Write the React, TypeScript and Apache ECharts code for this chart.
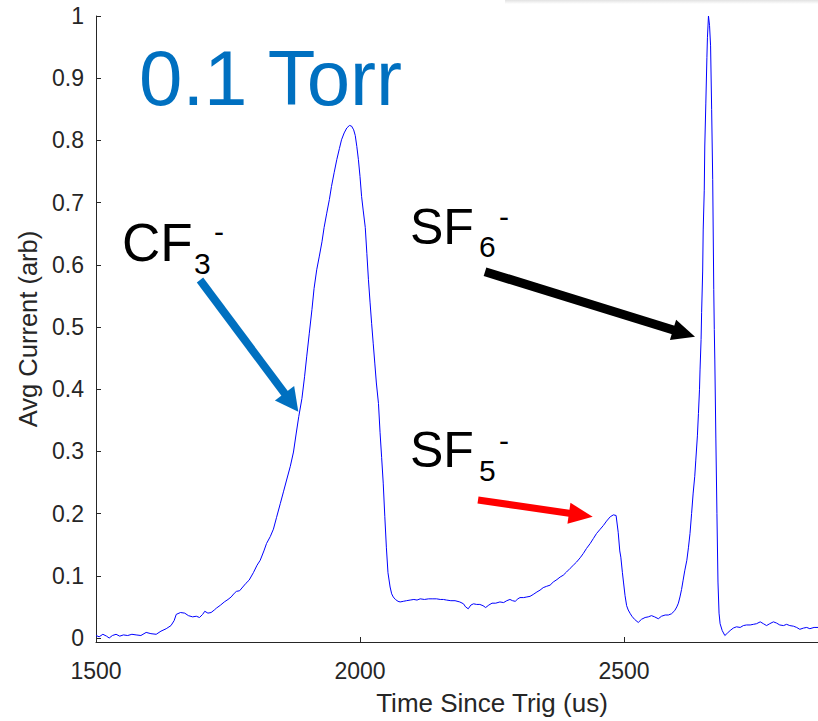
import React, { useEffect, useRef } from "react";
import * as echarts from "echarts";

const timeUs = [
  1500, 1506, 1513, 1520, 1525, 1531, 1538, 1545, 1552, 1560, 1568, 1576, 1585, 1595, 1604, 1614, 1623, 1633, 1642, 1648,
  1652, 1660, 1668, 1675, 1683, 1690, 1696, 1702, 1706, 1712, 1718, 1724, 1728, 1736, 1743, 1750, 1756, 1762, 1766, 1772,
  1778, 1784, 1790, 1798, 1805, 1811, 1818, 1823, 1830, 1836, 1842, 1849, 1855, 1861, 1868, 1874, 1879, 1884, 1890, 1895,
  1899, 1904, 1909, 1913, 1918, 1923, 1928, 1932, 1937, 1942, 1946, 1951, 1956, 1961, 1965, 1970, 1975, 1980, 1984, 1988,
  1991, 1994, 1997, 2000, 2003, 2006, 2010, 2013, 2016, 2019, 2022, 2025, 2028, 2031, 2035, 2038, 2041, 2044, 2047, 2050,
  2053, 2057, 2060, 2063, 2067, 2072, 2076, 2082, 2088, 2095, 2102, 2108, 2114, 2122, 2130, 2138, 2145, 2152, 2158, 2164,
  2172, 2180, 2189, 2196, 2200, 2205, 2210, 2215, 2221, 2227, 2233, 2238, 2244, 2250, 2257, 2265, 2272, 2278, 2284, 2289,
  2294, 2299, 2303, 2310, 2316, 2322, 2328, 2335, 2341, 2347, 2353, 2360, 2366, 2373, 2379, 2385, 2391, 2398, 2404, 2410,
  2417, 2423, 2429, 2436, 2442, 2448, 2455, 2461, 2467, 2474, 2480, 2485, 2489, 2492, 2494, 2497, 2499, 2502, 2505, 2508,
  2512, 2515, 2520, 2527, 2533, 2540, 2546, 2552, 2558, 2565, 2571, 2578, 2584, 2590, 2596, 2600, 2603, 2606, 2609, 2612,
  2615, 2619, 2622, 2625, 2628, 2631, 2634, 2636, 2639, 2641, 2643, 2644, 2646, 2647, 2649, 2650, 2652, 2653, 2655, 2657,
  2658, 2660, 2662, 2664, 2666, 2668, 2670, 2671, 2672, 2674, 2676, 2678, 2680, 2682, 2686, 2691, 2696, 2701, 2707, 2713,
  2720, 2726, 2732, 2739, 2745, 2751, 2758, 2764, 2770, 2776, 2783, 2789, 2795, 2802, 2808, 2814, 2821, 2827, 2833, 2840,
  2846, 2852, 2860, 2868,
];

const avgCurrent = [
  0.004, 0.002, 0.006, 0.003, 0.0, 0.004, 0.006, 0.003, 0.005, 0.004, 0.006, 0.005, 0.004, 0.009, 0.007, 0.006, 0.011, 0.015, 0.02, 0.028,
  0.038, 0.041, 0.04, 0.036, 0.034, 0.035, 0.033, 0.038, 0.043, 0.04, 0.041, 0.045, 0.048, 0.053, 0.058, 0.062, 0.066, 0.072, 0.075, 0.076,
  0.082, 0.088, 0.093, 0.105, 0.117, 0.125, 0.14, 0.152, 0.163, 0.175, 0.194, 0.216, 0.235, 0.254, 0.276, 0.299, 0.328, 0.356, 0.385, 0.42,
  0.452, 0.49, 0.528, 0.562, 0.592, 0.614, 0.637, 0.66, 0.683, 0.705, 0.726, 0.748, 0.769, 0.787, 0.801, 0.812, 0.82, 0.824, 0.823, 0.817,
  0.808, 0.79, 0.769, 0.742, 0.71, 0.688, 0.66, 0.618, 0.576, 0.54, 0.506, 0.474, 0.442, 0.41, 0.377, 0.33, 0.29, 0.249, 0.195, 0.145,
  0.105, 0.082, 0.071, 0.066, 0.062, 0.059, 0.058, 0.059, 0.06, 0.061, 0.062, 0.061, 0.063, 0.062, 0.063, 0.063, 0.063, 0.062, 0.062, 0.061,
  0.06, 0.06, 0.058, 0.055, 0.05, 0.047, 0.053, 0.055, 0.054, 0.054, 0.052, 0.049, 0.053, 0.056, 0.056, 0.058, 0.057, 0.06, 0.062, 0.06,
  0.059, 0.063, 0.065, 0.065, 0.066, 0.067, 0.07, 0.074, 0.077, 0.081, 0.083, 0.085, 0.09, 0.094, 0.098, 0.101, 0.106, 0.112, 0.117, 0.122,
  0.129, 0.136, 0.144, 0.152, 0.16, 0.168, 0.175, 0.181, 0.188, 0.195, 0.198, 0.197, 0.17, 0.14, 0.13, 0.105, 0.09, 0.068, 0.052, 0.045,
  0.039, 0.035, 0.03, 0.025, 0.03, 0.033, 0.034, 0.036, 0.034, 0.031, 0.035, 0.037, 0.037, 0.039, 0.044, 0.05, 0.056, 0.066, 0.078, 0.093,
  0.108, 0.125, 0.145, 0.168, 0.2, 0.233, 0.26, 0.286, 0.325, 0.361, 0.4, 0.431, 0.48, 0.523, 0.59, 0.656, 0.72, 0.791, 0.86, 0.933,
  0.965, 1.0, 0.985, 0.952, 0.85, 0.737, 0.56, 0.496, 0.447, 0.32, 0.2, 0.09, 0.04, 0.023, 0.012, 0.004, 0.008, 0.012, 0.016, 0.018,
  0.017, 0.02, 0.021, 0.021, 0.022, 0.023, 0.026, 0.023, 0.02, 0.023, 0.026, 0.024, 0.021, 0.02, 0.022, 0.02, 0.019, 0.017, 0.014, 0.016,
  0.017, 0.015, 0.017, 0.017,
];

const yTicks = [0, 0.1, 0.2, 0.3, 0.4, 0.5, 0.6, 0.7, 0.8, 0.9, 1];
const xTicks = [1500, 2000, 2500];

const FONT = '"Liberation Sans", Arial, Helvetica, sans-serif';
const AXIS_COLOR = "#262626";

function arrow(
  sx: number, sy: number, tx: number, ty: number,
  headLen: number, headWidth: number, lineWidth: number, color: string
) {
  const dx = tx - sx;
  const dy = ty - sy;
  const len = Math.sqrt(dx * dx + dy * dy);
  const ux = dx / len;
  const uy = dy / len;
  const bx = tx - ux * headLen;
  const by = ty - uy * headLen;
  const px = -uy;
  const py = ux;
  return [
    {
      type: "line",
      shape: { x1: sx, y1: sy, x2: bx + ux * 2, y2: by + uy * 2 },
      style: { stroke: color, lineWidth },
      z: 100,
    },
    {
      type: "polygon",
      shape: {
        points: [
          [tx, ty],
          [bx + px * headWidth / 2, by + py * headWidth / 2],
          [bx - px * headWidth / 2, by - py * headWidth / 2],
        ],
      },
      style: { fill: color },
      z: 100,
    },
  ];
}

function txt(text: string, x: number, y: number, size: number, color: string) {
  return {
    type: "text",
    x,
    y,
    z: 100,
    style: {
      text,
      fill: color,
      fontSize: size,
      fontFamily: FONT,
      align: "left",
      verticalAlign: "middle",
    },
  };
}

export default function App() {
  const ref = useRef<HTMLDivElement>(null);

  useEffect(() => {
    if (!ref.current) return;
    const chart = echarts.init(ref.current, undefined, { renderer: "svg" });
    const data = timeUs.map((t, i) => [t, avgCurrent[i]]);

    const graphic: any[] = [
      {
        type: "rect",
        shape: { x: 505, y: 0, width: 313, height: 4 },
        style: {
          fill: new echarts.graphic.LinearGradient(0, 0, 0, 1, [
            { offset: 0, color: "#e2e2e2" },
            { offset: 1, color: "#ffffff" },
          ]),
        },
        z: 90,
      },
      txt("0.1 Torr", 139, 78, 78, "#0070C0"),
      txt("CF", 122, 242, 53, "#000000"),
      txt("3", 194, 263, 30, "#000000"),
      txt("-", 214, 231, 30, "#000000"),
      txt("SF", 410, 226.5, 50, "#000000"),
      txt("6", 479, 246.5, 30, "#000000"),
      txt("-", 499, 216, 30, "#000000"),
      txt("SF", 410, 450, 50, "#000000"),
      txt("5", 479, 470, 30, "#000000"),
      txt("-", 499, 440, 30, "#000000"),
      ...arrow(200, 280, 298.3, 411.7, 23, 24, 8, "#0070C0"),
      ...arrow(485, 271.7, 695, 336.7, 23, 21, 9, "#000000"),
      ...arrow(478, 500, 592.7, 516.7, 24, 21, 7, "#FF0000"),
    ];

    chart.setOption({
      animation: false,
      backgroundColor: "#ffffff",
      grid: {
        left: 96,
        top: 16,
        width: 792,
        height: 626,
        containLabel: false,
        outerBoundsMode: "none",
      },
      xAxis: {
        type: "value",
        min: 1500,
        max: 3000,
        interval: 500,
        name: "Time Since Trig (us)",
        nameLocation: "middle",
        nameGap: 48,
        nameTextStyle: { fontSize: 26, color: AXIS_COLOR, fontFamily: FONT },
        axisLine: { show: true, onZero: false, lineStyle: { color: AXIS_COLOR, width: 1 } },
        axisTick: { show: true, inside: true, length: 5, customValues: xTicks, lineStyle: { color: AXIS_COLOR } },
        axisLabel: {
          customValues: xTicks,
          fontSize: 23,
          color: AXIS_COLOR,
          fontFamily: FONT,
          margin: 17,
          formatter: (v: number) => String(v),
        },
        splitLine: { show: false },
      },
      yAxis: {
        type: "value",
        min: -0.0064,
        max: 1,
        name: "Avg Current (arb)",
        nameLocation: "middle",
        nameGap: 55,
        nameTextStyle: { fontSize: 25.5, color: AXIS_COLOR, fontFamily: FONT },
        axisLine: { show: true, onZero: false, lineStyle: { color: AXIS_COLOR, width: 1 } },
        axisTick: { show: true, inside: true, length: 5, customValues: yTicks, lineStyle: { color: AXIS_COLOR } },
        axisLabel: {
          customValues: yTicks,
          fontSize: 23,
          color: AXIS_COLOR,
          fontFamily: FONT,
          margin: 12,
          padding: [8, 0, 0, 0],
          formatter: (v: number) => String(v),
        },
        splitLine: { show: false },
      },
      series: [
        {
          type: "line",
          data,
          showSymbol: false,
          symbol: "none",
          lineStyle: { color: "#0000ff", width: 1 },
          clip: true,
        },
      ],
      graphic,
    });

    return () => chart.dispose();
  }, []);

  return (
    <div
      style={{
        position: "absolute",
        left: 0,
        top: 0,
        width: 818,
        height: 721,
        overflow: "hidden",
        background: "#ffffff",
      }}
    >
      <div ref={ref} style={{ width: 900, height: 721 }} />
    </div>
  );
}
